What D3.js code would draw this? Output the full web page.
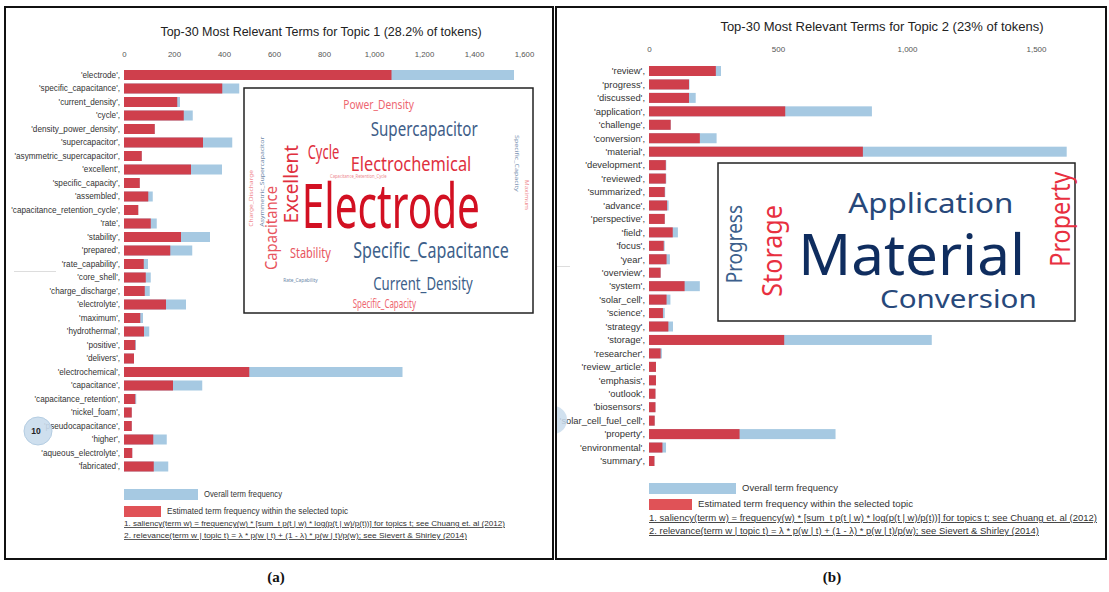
<!DOCTYPE html>
<html><head><meta charset="utf-8">
<script src="https://cdn.jsdelivr.net/npm/d3@7"></script>
<style>body{margin:0;background:#fff}svg{display:block}</style>
</head><body>
<script>
// ---------- DATA ----------
const terms1 = ["electrode","specific_capacitance","current_density","cycle","density_power_density","supercapacitor","asymmetric_supercapacitor","excellent","specific_capacity","assembled","capacitance_retention_cycle","rate","stability","prepared","rate_capability","core_shell","charge_discharge","electrolyte","maximum","hydrothermal","positive","delivers","electrochemical","capacitance","capacitance_retention","nickel_foam","pseudocapacitance","higher","aqueous_electrolyte","fabricated"];
const total1 = [1560,461,224,275,123,433,71,392,63,115,57,131,344,273,96,107,103,248,76,101,48,40,1114,313,49,31,31,171,33,177];
const topic1 = [1070,393,213,239,123,316,71,268,63,97,57,107,228,185,79,87,83,168,65,80,45,40,501,196,45,31,31,117,33,119];
const ticks1 = [0,200,400,600,800,1000,1200,1400,1600];

const terms2 = ["review","progress","discussed","application","challenge","conversion","material","development","reviewed","summarized","advance","perspective","field","focus","year","overview","system","solar_cell","science","strategy","storage","researcher","review_article","emphasis","outlook","biosensors","solar_cell_fuel_cell","property","environmental","summary"];
const total2 = [279,157,181,864,84,262,1619,67,67,63,76,61,112,61,81,45,197,83,61,93,1096,50,27,27,25,25,22,723,66,21];
const topic2 = [259,155,155,528,84,197,829,65,65,61,70,61,92,57,68,45,138,68,54,75,524,45,27,27,25,25,22,351,52,21];
const ticks2 = [0,500,1000,1500];

const cloud1Words = ["Electrode","Specific_Capacitance","Supercapacitor","Electrochemical","Current_Density","Excellent","Capacitance","Cycle","Stability","Power_Density","Specific_Capacity","Capacitance_Retention_Cycle","Asymmetric_Supercapacitor","Charge_Discharge","Rate_Capability","Specific_Capacity","Maximum"];
const cloud2Words = ["Material","Application","Conversion","Storage","Property","Progress"];

const titles = ["Top-30 Most Relevant Terms for Topic 1 (28.2% of tokens)","Top-30 Most Relevant Terms for Topic 2 (23% of tokens)"];
const legendTexts = ["Overall term frequency","Estimated term frequency within the selected topic"];
const notes = ["1. saliency(term w) = frequency(w) * [sum_t p(t | w) * log(p(t | w)/p(t))] for topics t; see Chuang et. al (2012)",
               "2. relevance(term w | topic t) = \u03bb * p(w | t) + (1 - \u03bb) * p(w | t)/p(w); see Sievert & Shirley (2014)"];
const panelLabels = ["(a)","(b)"];

// ---------- LAYOUT ----------
const W = 1109, H = 592;
const RED = "#cf3f4c", BLUE = "#a6c9e2";
const svg = d3.select("body").append("svg").attr("width", W).attr("height", H);
svg.append("rect").attr("width", W).attr("height", H).attr("fill", "#fff");

const panels = [
  {frame:[5,7,553,559], terms:terms1, total:total1, topic:topic1, ticks:ticks1,
   x0:124, domainMax:1600, x1:524, yTop:75, yBot:466.5, barH:10, titleX:321, titleY:36, tickY:57,
   labelFs:8.2, tickFs:7.8, titleFs:12.5,
   leg:{y1:489, y2:506, w1:74, w2:37, h:11, t1W:78, t2W:181, n1:526, n2:538, nW:[381,343], nFs:8},
   label:[276,582]},
  {frame:[556,7,1106,559], terms:terms2, total:total2, topic:topic2, ticks:ticks2,
   x0:649, domainMax:1500, x1:1036, yTop:71, yBot:461, barH:10, titleX:882, titleY:31, tickY:52,
   labelFs:9.4, tickFs:8, titleFs:13,
   leg:{y1:483, y2:499, w1:87, w2:43, h:11, t1W:96, t2W:215, n1:521, n2:534, nW:[448,390], nFs:9},
   label:[832,582]}
];

panels.forEach((p, pi) => {
  const g = svg.append("g");
  const [fx0, fy0, fx1, fy1] = p.frame;
  g.append("rect").attr("x", fx0).attr("y", fy0).attr("width", fx1-fx0).attr("height", fy1-fy0)
    .attr("fill", "none").attr("stroke", "#111").attr("stroke-width", 2);

  const x = d3.scaleLinear().domain([0, p.domainMax]).range([p.x0, p.x1]);
  const y = d3.scalePoint().domain(p.terms).range([p.yTop, p.yBot]);

  g.append("text").attr("x", p.titleX).attr("y", p.titleY).attr("text-anchor", "middle")
    .attr("font-family", "Liberation Sans, Arial").attr("font-size", p.titleFs).attr("fill", "#222")
    .text(titles[pi]);

  const axis = d3.axisTop(x).tickValues(p.ticks).tickFormat(d3.format(",")).tickSize(0);
  const ag = g.append("g").attr("transform", `translate(0,${p.tickY})`).call(axis);
  ag.select(".domain").remove();
  ag.selectAll("text").attr("font-family", "Liberation Sans, Arial").attr("font-size", p.tickFs)
    .attr("fill", "#555").attr("dy", "0.32em");

  const rows = g.selectAll("g.row").data(p.terms).join("g").attr("class", "row");
  rows.append("rect").attr("x", x(0)).attr("y", d => y(d) - p.barH/2)
    .attr("width", (d,i) => x(p.total[i]) - x(0)).attr("height", p.barH).attr("fill", BLUE);
  rows.append("rect").attr("x", x(0)).attr("y", d => y(d) - p.barH/2)
    .attr("width", (d,i) => x(p.topic[i]) - x(0)).attr("height", p.barH).attr("fill", RED);
  rows.append("text").attr("x", x(0) - 4).attr("y", d => y(d)).attr("dy", "0.35em")
    .attr("text-anchor", "end").attr("font-family", "Liberation Sans, Arial").attr("font-size", p.labelFs)
    .attr("fill", "#333").text(d => `'${d}',`);

  const L = p.leg;
  g.append("rect").attr("x", x(0)).attr("y", L.y1).attr("width", L.w1).attr("height", L.h).attr("fill", BLUE);
  g.append("text").attr("x", x(0) + L.w1 + 6).attr("y", L.y1 + L.h/2).attr("dy", "0.35em")
    .attr("font-family", "Liberation Sans, Arial").attr("font-size", 8.5).attr("fill", "#333")
    .attr("textLength", L.t1W).attr("lengthAdjust", "spacingAndGlyphs").text(legendTexts[0]);
  g.append("rect").attr("x", x(0)).attr("y", L.y2).attr("width", L.w2).attr("height", L.h).attr("fill", "#e05257");
  g.append("text").attr("x", x(0) + L.w2 + 6).attr("y", L.y2 + L.h/2).attr("dy", "0.35em")
    .attr("font-family", "Liberation Sans, Arial").attr("font-size", 8.5).attr("fill", "#333")
    .attr("textLength", L.t2W).attr("lengthAdjust", "spacingAndGlyphs").text(legendTexts[1]);
  [L.n1, L.n2].forEach((ny, k) => {
    g.append("text").attr("x", x(0)).attr("y", ny).attr("font-family", "Liberation Sans, Arial")
      .attr("font-size", L.nFs).attr("fill", "#333").attr("text-decoration", "underline")
      .attr("textLength", L.nW[k]).attr("lengthAdjust", "spacingAndGlyphs").text(notes[k]);
  });

  svg.append("text").attr("x", p.label[0]).attr("y", p.label[1]).attr("text-anchor", "middle")
    .attr("font-family", "Liberation Serif, Times New Roman").attr("font-weight", "bold")
    .attr("font-size", 15).attr("fill", "#111").text(panelLabels[pi]);
});

// leftover LDAvis decorations
svg.append("line").attr("x1", 14).attr("x2", 56).attr("y1", 271.5).attr("y2", 271.5).attr("stroke", "#ddd");
svg.append("line").attr("x1", 557).attr("x2", 570).attr("y1", 266.5).attr("y2", 266.5).attr("stroke", "#ddd");
svg.append("circle").attr("cx", 38).attr("cy", 431).attr("r", 14).attr("fill", "#c9dcec").attr("fill-opacity", 0.9).attr("stroke", "#b4cde2");
svg.append("text").attr("x", 36).attr("y", 431).attr("dy", "0.35em").attr("text-anchor", "middle")
  .attr("font-family", "Liberation Sans, Arial").attr("font-weight", "bold").attr("font-size", 8.5).attr("fill", "#222").text("10");
svg.append("defs").append("clipPath").attr("id", "cp2").append("rect").attr("x", 557).attr("y", 380).attr("width", 40).attr("height", 80);
svg.append("circle").attr("clip-path", "url(#cp2)").attr("cx", 553).attr("cy", 420).attr("r", 14).attr("fill", "#c9dcec").attr("fill-opacity", 0.85);

// ---------- WORD CLOUDS (inset images) ----------
const cloudFont = "Noto Sans, Open Sans, sans-serif";
// layout: [x, y, fontSize, colour, rotate, width]
const cloud1Layout = [
  [301.7,228.3,62,"#d21022",0,178.3],
  [353.3,258.3,22,"#3d5f8a",0,155.4],
  [370.7,136,20,"#3e5d88",0,107],
  [350.7,170.7,20,"#e0303e",0,120.6],
  [373.3,290,18,"#3d5f8a",0,99.4],
  [298.3,223.3,19,"#e0303e",-90,78.3],
  [277.3,270,17,"#e8545e",-90,84],
  [307.7,159.3,19,"#e0303e",0,31.6],
  [290,258.3,15,"#e8545e",0,40.7],
  [343.3,109.3,13,"#ee6670",0,70.7],
  [352.7,307.7,12,"#ee6670",0,63.3],
  [330,178,4.5,"#ee8a90",0,56.7],
  [264,226.7,6,"#6c87a8",-90,90],
  [253,226.7,5,"#f08c92",-90,56.7],
  [283.3,281.7,5,"#6c87a8",0,34.4],
  [515,135,6,"#7a93b2",90,56.7],
  [525,180,4.5,"#f08c92",90,30]
];
const cloud2Layout = [
  [798.3,275,56,"#0f2d5f",0,226.7],
  [848.3,212.7,27,"#27487a",0,165],
  [880,308.3,26,"#27487a",0,156.7],
  [781.7,296.7,27,"#e8303f",-90,91.7],
  [1070,266.7,27,"#e8303f",-90,95],
  [741.7,283.3,22,"#3c5f8c",-90,78.3]
];
function drawCloud(box, words, layout) {
  const g = svg.append("g");
  g.append("rect").attr("x", box[0]).attr("y", box[1]).attr("width", box[2]-box[0]).attr("height", box[3]-box[1])
    .attr("fill", "#fff").attr("stroke", "#222").attr("stroke-width", 1.5);
  g.selectAll("text").data(words).join("text")
    .attr("transform", (d,i) => `translate(${layout[i][0]},${layout[i][1]}) rotate(${layout[i][4]})`)
    .attr("font-family", cloudFont).attr("font-size", (d,i) => layout[i][2])
    .attr("fill", (d,i) => layout[i][3])
    .attr("textLength", (d,i) => layout[i][5]).attr("lengthAdjust", "spacingAndGlyphs")
    .text(d => d);
}
drawCloud([244,88,533,313], cloud1Words, cloud1Layout);
drawCloud([718,163,1075,321], cloud2Words, cloud2Layout);
</script>
</body></html>
